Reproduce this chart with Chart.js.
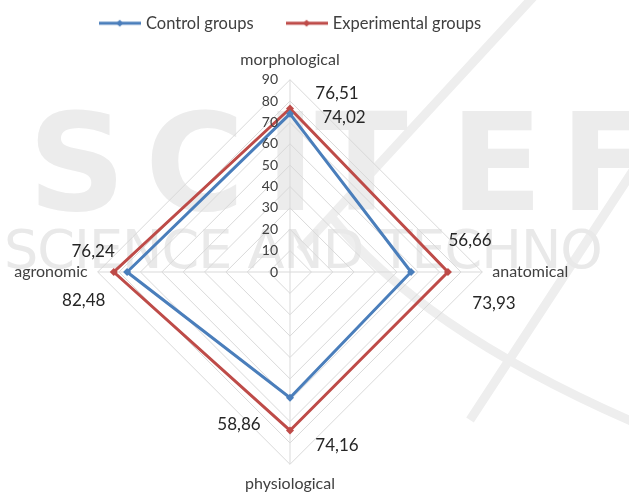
<!DOCTYPE html>
<html>
<head>
<meta charset="utf-8">
<script src="https://cdn.jsdelivr.net/npm/chart.js@4.4.1/dist/chart.umd.min.js"></script>
<style>
    html, body { margin: 0; padding: 0; background: #fff; }
    #wrap { width: 629px; height: 495px; position: relative; }
</style>
</head>
<body>
<div id="wrap"><canvas id="myChart"></canvas></div>
<script>
const categories = ['morphological', 'anatomical', 'physiological', 'agronomic'];
const controlValues = [74.02, 56.66, 58.86, 76.24];
const experimentalValues = [76.51, 73.93, 74.16, 82.48];
const tickValues = [0, 10, 20, 30, 40, 50, 60, 70, 80, 90];

const BLUE = '#4a7ebb';
const RED = '#be4b48';
const FONT = 'Lato, "Open Sans", sans-serif';

// where each value label sits relative to its point (pixels)
const labelOffsets = [
    [[54, 4], [59, -31], [-51, 27], [-34, -20]],
    [[47, -15], [46, 32], [47, 15], [-30, 29]]
];

function legendIcon(color)
{
    const c = document.createElement('canvas');
    c.width = 42;
    c.height = 10;
    const g = c.getContext('2d');
    g.strokeStyle = color;
    g.lineWidth = 3;
    g.beginPath();
    g.moveTo(0, 5);
    g.lineTo(42, 5);
    g.stroke();
    g.fillStyle = color;
    g.beginPath();
    g.moveTo(21, 1.5);
    g.lineTo(24.5, 5);
    g.lineTo(21, 8.5);
    g.lineTo(17.5, 5);
    g.closePath();
    g.fill();
    return c;
}

const legendGap = {
    id: 'legendGap',
    beforeInit(chart) {
        const fit = chart.legend.fit;
        chart.legend.fit = function () {
            fit.bind(chart.legend)();
            this.height += 9;
        };
    }
};

const watermark = {
    id: 'watermark',
    beforeDraw(chart) {
        const ctx = chart.ctx;
        ctx.save();
        ctx.strokeStyle = '#eeeeee';
        ctx.lineWidth = 9;
        ctx.beginPath();
        ctx.moveTo(535, -5);
        ctx.lineTo(300, 250);
        ctx.moveTo(640, 160);
        ctx.lineTo(470, 420);
        ctx.moveTo(330, 215);
        ctx.quadraticCurveTo(420, 330, 640, 425);
        ctx.stroke();
        ctx.fillStyle = '#ececec';
        ctx.font = 'bold 136px "DejaVu Sans", sans-serif';
        ctx.textBaseline = 'alphabetic';
        ctx.textAlign = 'left';
        [['S', 28], ['C', 145], ['I', 265], ['T', 315], ['E', 450], ['F', 560]].forEach(l => {
            ctx.fillText(l[0], l[1], 210);
        });
        ctx.fillStyle = '#e9e9e9';
        ctx.font = '54px "DejaVu Sans", sans-serif';
        ctx.letterSpacing = '-1px';
        ctx.fillText('SCIENCE AND TECHNO', 4, 268);
        ctx.restore();
    }
};

const tickLabels = {
    id: 'tickLabels',
    afterDatasetsDraw(chart) {
        const scale = chart.scales.r;
        const ctx = chart.ctx;
        ctx.save();
        ctx.font = '14px ' + FONT;
        ctx.fillStyle = '#404040';
        ctx.textAlign = 'right';
        ctx.textBaseline = 'middle';
        tickValues.forEach(v => {
            const d = scale.getDistanceFromCenterForValue(v);
            ctx.fillText(String(v), scale.xCenter - 12, scale.yCenter - d);
        });
        ctx.restore();
    }
};

const valueLabels = {
    id: 'valueLabels',
    afterDatasetsDraw(chart) {
        const ctx = chart.ctx;
        ctx.save();
        ctx.font = '17px ' + FONT;
        ctx.fillStyle = '#262626';
        ctx.textAlign = 'center';
        ctx.textBaseline = 'middle';
        chart.data.datasets.forEach((ds, i) => {
            const meta = chart.getDatasetMeta(i);
            meta.data.forEach((pt, j) => {
                const off = labelOffsets[i][j];
                const txt = ds.data[j].toFixed(2).replace('.', ',');
                ctx.fillText(txt, pt.x + off[0], pt.y + off[1]);
            });
        });
        ctx.restore();
    }
};

const chartData = {
    labels: categories,
    datasets: [
        {
            label: 'Control groups',
            data: controlValues,
            borderColor: BLUE,
            backgroundColor: BLUE,
            borderWidth: 3,
            fill: false,
            pointStyle: 'rectRot',
            pointRadius: 4,
            pointBackgroundColor: BLUE,
            pointBorderWidth: 0
        },
        {
            label: 'Experimental groups',
            data: experimentalValues,
            borderColor: RED,
            backgroundColor: RED,
            borderWidth: 3,
            fill: false,
            pointStyle: 'rectRot',
            pointRadius: 4,
            pointBackgroundColor: RED,
            pointBorderWidth: 0
        }]
};

const config = {
    type: 'radar',
    data: chartData,
    options: {
        responsive: true,
        maintainAspectRatio: false,
        animation: false,
        layout: {
            padding: { top: -20, right: 46, bottom: -2, left: 0 }
        },
        plugins: {
            legend: {
                position: 'top',
                labels: {
                    usePointStyle: true,
                    pointStyleWidth: 36,
                    padding: 35,
                    color: '#404040',
                    font: { family: FONT, size: 16.5 },
                    generateLabels(chart) {
                        return chart.data.datasets.map((ds, i) => ({
                            text: ds.label,
                            pointStyle: legendIcon(ds.borderColor),
                            fillStyle: ds.borderColor,
                            strokeStyle: ds.borderColor,
                            fontColor: '#404040',
                            lineWidth: 0,
                            hidden: false,
                            datasetIndex: i
                        }));
                    }
                }
            },
            tooltip: { enabled: false }
        },
        scales: {
            r: {
                min: 0,
                max: 90,
                ticks: { stepSize: 10, display: false },
                grid: { color: '#d9d9d9', lineWidth: 1 },
                angleLines: { color: '#d9d9d9', lineWidth: 1 },
                pointLabels: {
                    padding: 10,
                    color: '#404040',
                    font: { family: FONT, size: 16 }
                }
            }
        }
    },
    plugins: [legendGap, watermark, tickLabels, valueLabels]
};

const ctx = document.getElementById('myChart').getContext('2d');

if (ctx) {
    new Chart(ctx, config);
}
</script>
</body>
</html>
